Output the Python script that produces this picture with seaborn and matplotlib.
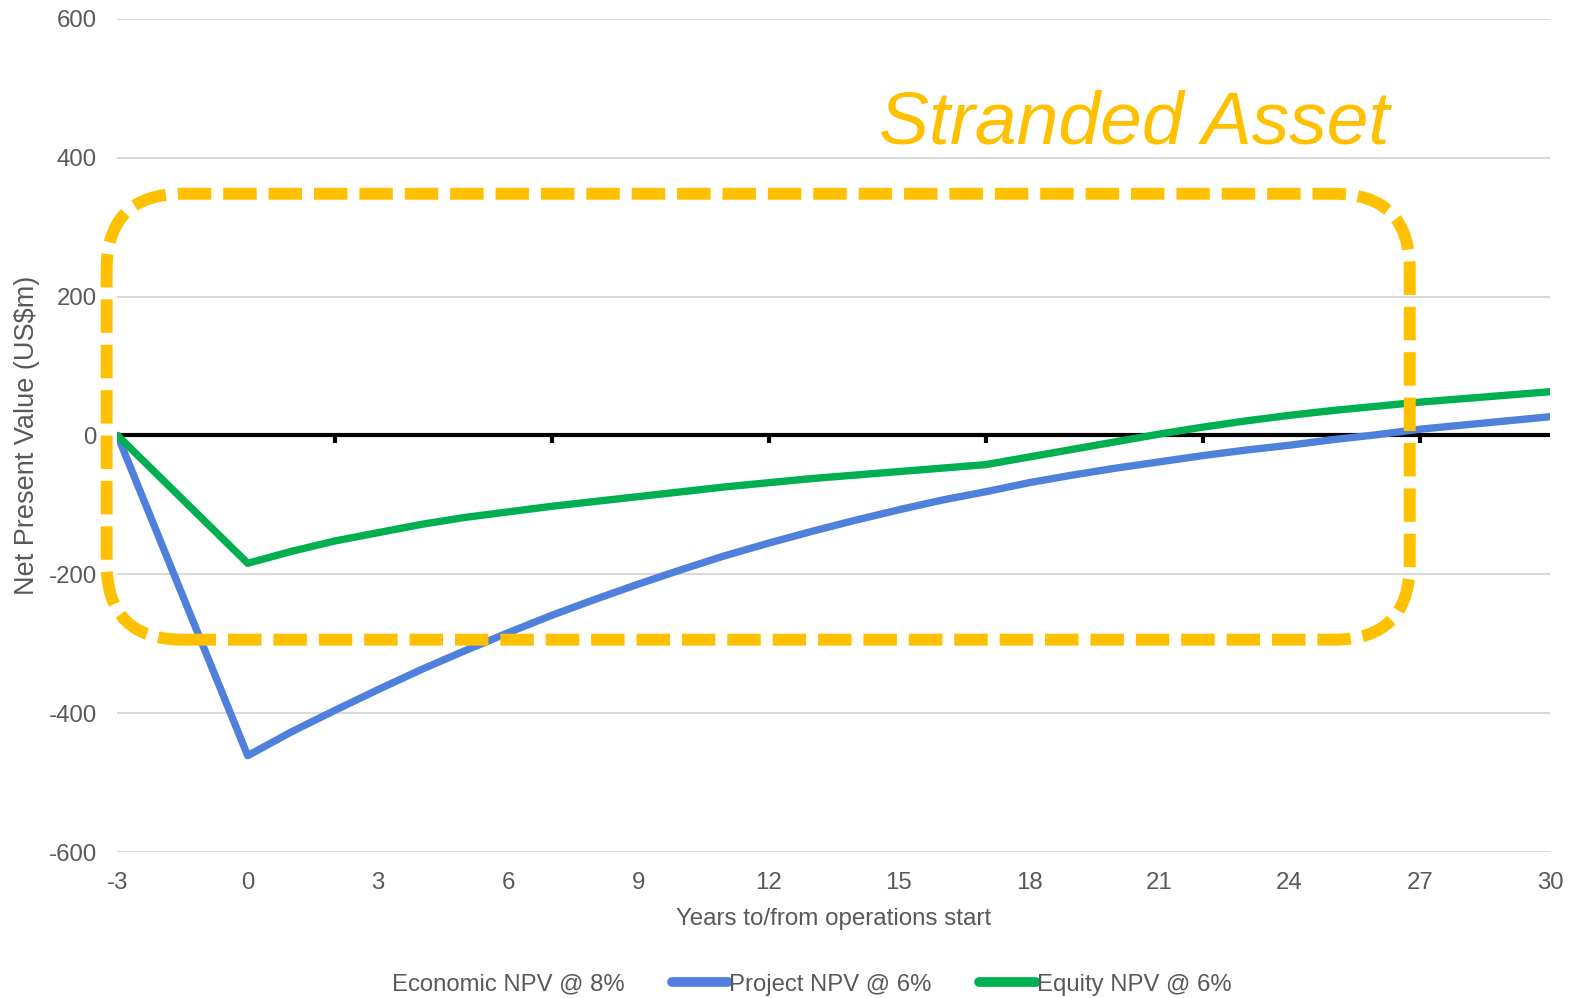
import matplotlib
matplotlib.use("Agg")
import matplotlib.pyplot as plt
import matplotlib.markers as mmarkers
import numpy as np
import pandas as pd
import seaborn as sns
from matplotlib.lines import Line2D
from matplotlib.patches import FancyBboxPatch
from matplotlib.transforms import IdentityTransform

# ---- data -------------------------------------------------------------
years = [-3] + list(range(0, 31))
project_npv = [0, -461, -427, -396, -366, -337, -310, -284, -259, -236, -214,
               -193, -173, -155, -138, -122, -107, -93, -81, -68, -57,
               -47, -38, -29, -21, -14, -6, 1, 9, 15, 21, 27]
equity_npv = [0, -184, -167, -152, -140, -128, -118, -110, -102, -95, -88,
              -81, -74, -68, -62, -57, -52, -47, -42, -31, -20,
              -9, 2, 12, 21, 29, 36, 42, 48, 53, 58, 63]
series_names = ["Economic NPV @ 8%", "Project NPV @ 6%", "Equity NPV @ 6%"]
x_ticks = list(range(-3, 31, 3))
y_ticks = list(range(-600, 601, 200))
axis_marks = [-3, 2, 7, 12, 17, 22, 27]
highlight_label = "Stranded Asset"

# ---- style -------------------------------------------------------------
sns.set_style("white")
plt.rcParams["font.family"] = ["Liberation Sans", "DejaVu Sans"]
plt.rcParams["axes.unicode_minus"] = False
GREY = "#595959"
BLUE = "#4E80DC"
GREEN = "#00B050"
GOLD = "#FFC000"
FS = 17.3

df = pd.concat([
    pd.DataFrame({"year": years, "npv": project_npv, "series": series_names[1]}),
    pd.DataFrame({"year": years, "npv": equity_npv, "series": series_names[2]}),
])
palette = {series_names[0]: "none", series_names[1]: BLUE, series_names[2]: GREEN}

fig = plt.figure(figsize=(15.75, 9.98), dpi=100)
ax = fig.add_axes([0.0746, 0.1461, 0.9095, 0.8351])

ax.set_xlim(-3, 30)
ax.set_ylim(-600, 600)
ax.set_yticks(y_ticks)
ax.set_xticks(x_ticks)
ax.grid(axis="y", color="#D9D9D9", linewidth=1.5)
ax.grid(axis="x", visible=False)
ax.set_axisbelow(True)
for s in ax.spines.values():
    s.set_visible(False)
ax.tick_params(axis="both", length=0, labelsize=FS, labelcolor=GREY)
ax.tick_params(axis="y", pad=15)
ax.tick_params(axis="x", pad=14)

# horizontal axis crossing at zero, with its tick marks
ax.axhline(0, color="black", linewidth=3, zorder=2)
ax.plot(axis_marks, [0] * len(axis_marks), linestyle="none",
        marker=mmarkers.TICKDOWN, markersize=6, markeredgewidth=3,
        color="black", zorder=2)

sns.lineplot(data=df, x="year", y="npv", hue="series", palette=palette,
             linewidth=5.3, legend=False, ax=ax, zorder=3, sort=True)

ax.set_xlabel("Years to/from operations start", fontsize=17.4, color=GREY,
              labelpad=10)
ax.set_ylabel("Net Present Value (US$m)", fontsize=19.5, color=GREY,
              labelpad=6)

# legend along the bottom
handles = [Line2D([], [], color=palette[n], linewidth=7, solid_capstyle="round")
           for n in series_names]
fig.legend(handles, series_names, loc="center", bbox_to_anchor=(0.497, 0.0135),
           ncol=3, frameon=False, fontsize=17.2, labelcolor=GREY,
           handlelength=2.35, handletextpad=0.05, columnspacing=2.0)

# rounded dashed box around the underwater period
fig.canvas.draw()
box_x = (-3.25, 26.77)
box_y = (-294, 348)
(px0, py0), (px1, py1) = ax.transData.transform([(box_x[0], box_y[0]),
                                                 (box_x[1], box_y[1])])
box = FancyBboxPatch((px0, py0), px1 - px0, py1 - py0,
                     boxstyle="round,pad=0,rounding_size=76",
                     transform=IdentityTransform(), fill=False,
                     edgecolor=GOLD, linewidth=8.6,
                     linestyle=(0, (2.8, 1.0)), capstyle="butt",
                     clip_on=False, zorder=5)
fig.add_artist(box)

ax.text(14.55, 421, highlight_label, fontsize=54, style="italic",
        color=GOLD, ha="left", va="baseline", zorder=6)

fig.savefig("out.png", dpi=100)
